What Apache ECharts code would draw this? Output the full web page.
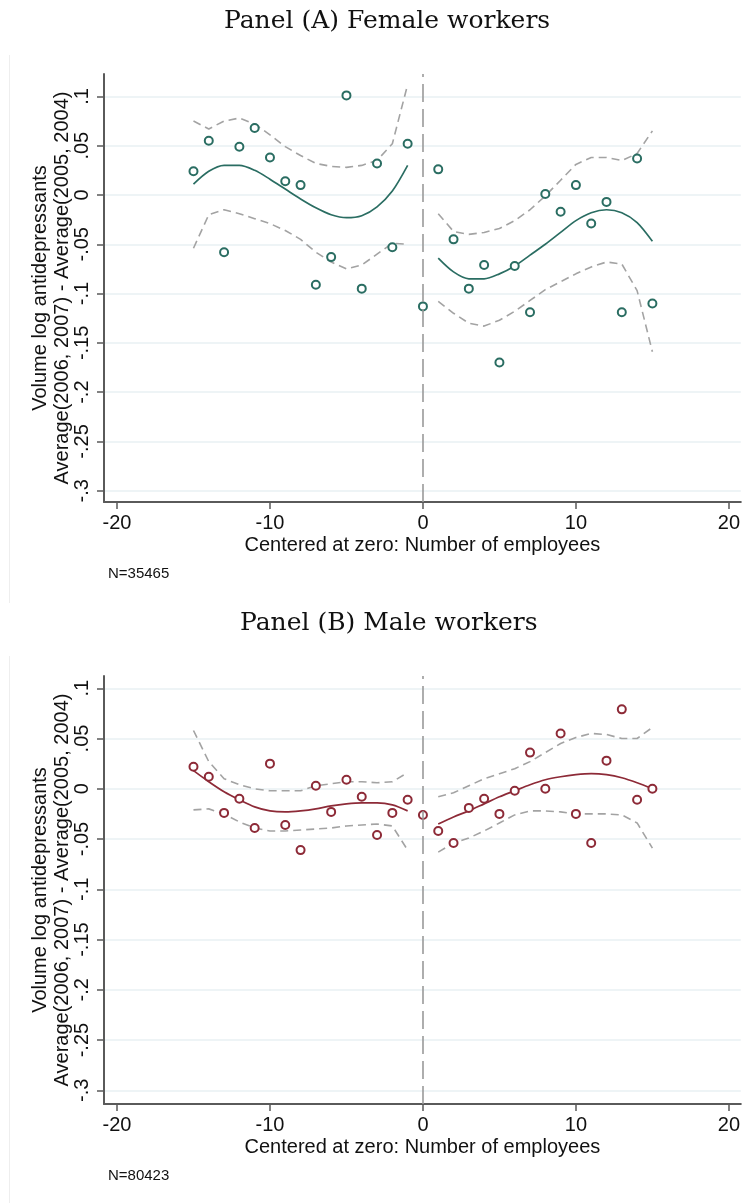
<!DOCTYPE html>
<html>
<head>
<meta charset="utf-8">
<script src="https://cdn.jsdelivr.net/npm/echarts@6/dist/echarts.min.js"></script>
<style>
  html, body { margin: 0; padding: 0; background: #ffffff; }
  #chart { width: 743px; height: 1203px; }
</style>
</head>
<body>
<div id="chart"></div>
<script>
// ---------------- data ----------------
const xAll   = [-15,-14,-13,-12,-11,-10,-9,-8,-7,-6,-5,-4,-3,-2,-1,0,1,2,3,4,5,6,7,8,9,10,11,12,13,14,15];
const xLeft  = [-15,-14,-13,-12,-11,-10,-9,-8,-7,-6,-5,-4,-3,-2,-1];
const xRight = [1,2,3,4,5,6,7,8,9,10,11,12,13,14,15];

const xTicks = [-20, -10, 0, 10, 20];
const yTicks = [0.1, 0.05, 0, -0.05, -0.1, -0.15, -0.2, -0.25, -0.3];
const yTickLabels = ['.1', '.05', '0', '-.05', '-.1', '-.15', '-.2', '-.25', '-.3'];

const panelTitles = ['Panel (A) Female workers', 'Panel (B) Male workers'];
const sampleNotes = ['N=35465', 'N=80423'];
const xTitle = 'Centered at zero: Number of employees';
const yTitle = 'Volume log antidepressants\nAverage(2006, 2007) - Average(2005, 2004)';

// Panel A: female workers
const femalePoints = [0.024,0.055,-0.058,0.049,0.068,0.038,0.014,0.010,-0.091,-0.063,0.101,-0.095,0.032,-0.053,0.052,-0.113,0.026,-0.045,-0.095,-0.071,-0.170,-0.072,-0.119,0.001,-0.017,0.010,-0.029,-0.007,-0.119,0.037,-0.110];
const femaleFitLeft    = [0.011,0.024,0.030,0.030,0.025,0.016,0.006,-0.004,-0.013,-0.020,-0.023,-0.021,-0.012,0.004,0.030];
const femaleFitRight   = [-0.064,-0.078,-0.085,-0.085,-0.080,-0.072,-0.061,-0.050,-0.038,-0.026,-0.018,-0.015,-0.018,-0.028,-0.047];
const femaleUpperLeft  = [0.075,0.067,0.075,0.078,0.072,0.061,0.049,0.040,0.032,0.029,0.028,0.030,0.035,0.052,0.112];
const femaleLowerLeft  = [-0.054,-0.020,-0.015,-0.019,-0.024,-0.029,-0.036,-0.045,-0.058,-0.068,-0.075,-0.071,-0.060,-0.049,-0.050];
const femaleUpperRight = [-0.019,-0.037,-0.040,-0.038,-0.034,-0.026,-0.015,-0.001,0.015,0.031,0.038,0.038,0.035,0.042,0.065];
const femaleLowerRight = [-0.108,-0.120,-0.130,-0.133,-0.127,-0.118,-0.107,-0.096,-0.088,-0.080,-0.073,-0.068,-0.070,-0.097,-0.159];

// Panel B: male workers
const malePoints = [0.022,0.012,-0.024,-0.010,-0.039,0.025,-0.036,-0.061,0.003,-0.023,0.009,-0.008,-0.046,-0.024,-0.011,-0.026,-0.042,-0.054,-0.019,-0.010,-0.025,-0.002,0.036,0.000,0.055,-0.025,-0.054,0.028,0.079,-0.011,0.000];
const maleFitLeft    = [0.018,0.007,-0.003,-0.011,-0.018,-0.022,-0.023,-0.022,-0.020,-0.017,-0.015,-0.014,-0.014,-0.016,-0.022];
const maleFitRight   = [-0.035,-0.028,-0.022,-0.015,-0.008,-0.002,0.004,0.009,0.012,0.014,0.015,0.014,0.011,0.006,0.000];
const maleUpperLeft  = [0.058,0.027,0.010,0.004,0.000,-0.002,-0.002,-0.002,0.003,0.005,0.007,0.007,0.006,0.007,0.016];
const maleLowerLeft  = [-0.021,-0.020,-0.025,-0.033,-0.039,-0.042,-0.042,-0.041,-0.040,-0.039,-0.037,-0.036,-0.035,-0.037,-0.061];
const maleUpperRight = [-0.008,-0.004,0.003,0.010,0.015,0.020,0.027,0.036,0.045,0.051,0.055,0.054,0.050,0.050,0.061];
const maleLowerRight = [-0.063,-0.054,-0.049,-0.042,-0.034,-0.026,-0.022,-0.022,-0.023,-0.025,-0.025,-0.025,-0.026,-0.034,-0.059];

// ---------------- styling ----------------
const SANS = '"Liberation Sans", Arial, sans-serif';
const SERIF = '"DejaVu Serif", serif';
const TEAL = '#2a6d62';
const RED = '#8d2a37';
const CI_GRAY = '#a3a3a3';
const AXIS_GRAY = '#5a5a5a';
const GRID_COLOR = '#e9f0f3';

const zip = (xs, ys) => xs.map((x, i) => [x, ys[i]]);

const panels = [
  { top: 74, height: 428, yMin: -0.3114, yMax: 0.1227, color: TEAL,
    pts: femalePoints, fl: femaleFitLeft, fr: femaleFitRight,
    ul: femaleUpperLeft, ll: femaleLowerLeft, ur: femaleUpperRight, lr: femaleLowerRight },
  { top: 676, height: 428, yMin: -0.3136, yMax: 0.1122, color: RED,
    pts: malePoints, fl: maleFitLeft, fr: maleFitRight,
    ul: maleUpperLeft, ll: maleLowerLeft, ur: maleUpperRight, lr: maleLowerRight }
];

const grids = [], xAxes = [], yAxes = [], series = [];

panels.forEach((p, i) => {
  grids.push({ left: 104, top: p.top, width: 639, height: p.height, containLabel: false });
  xAxes.push({
    type: 'value', gridIndex: i, min: -20.85, max: 20.78,
    name: xTitle, nameLocation: 'middle', nameGap: 33, nameMoveOverlap: false,
    nameTextStyle: { fontFamily: SANS, fontSize: 20, color: '#111' },
    axisLine: { show: true, onZero: false, lineStyle: { color: AXIS_GRAY, width: 2 } },
    axisTick: { show: true, length: 7, lineStyle: { color: AXIS_GRAY, width: 1.5 }, customValues: xTicks },
    axisLabel: { fontFamily: SANS, fontSize: 20, color: '#111', margin: 11, customValues: xTicks,
                 formatter: v => String(v) },
    splitLine: { show: false }
  });
  yAxes.push({
    type: 'value', gridIndex: i, min: p.yMin, max: p.yMax,
    name: yTitle, nameLocation: 'middle', nameRotate: 90, nameGap: 31, nameMoveOverlap: false,
    nameTextStyle: { fontFamily: SANS, fontSize: 20, color: '#111', lineHeight: 22 },
    axisLine: { show: true, onZero: false, lineStyle: { color: AXIS_GRAY, width: 2 } },
    axisTick: { show: true, length: 7, lineStyle: { color: AXIS_GRAY, width: 1.5 }, customValues: yTicks },
    axisLabel: { fontFamily: SANS, fontSize: 20, color: '#111', rotate: 90, margin: 12, customValues: yTicks,
                 formatter: v => { const k = yTicks.findIndex(t => Math.abs(t - v) < 1e-9); return k >= 0 ? yTickLabels[k] : ''; } },
    splitLine: { show: true, lineStyle: { color: GRID_COLOR, width: 1.5 } }
  });

  const ciStyle = { color: CI_GRAY, width: 1.6, type: [8, 5] };
  const addLine = (xs, ys, style, z, smooth) => series.push({
    type: 'line', xAxisIndex: i, yAxisIndex: i, data: zip(xs, ys),
    symbol: 'none', lineStyle: style, z: z, silent: true, animation: false, smooth: smooth
  });
  addLine(xLeft, p.ul, ciStyle, 2, false);
  addLine(xLeft, p.ll, ciStyle, 2, false);
  addLine(xRight, p.ur, ciStyle, 2, false);
  addLine(xRight, p.lr, ciStyle, 2, false);
  addLine(xLeft, p.fl, { color: p.color, width: 1.7 }, 3, 0.3);
  addLine(xRight, p.fr, { color: p.color, width: 1.7 }, 3, 0.3);

  series.push({
    type: 'scatter', xAxisIndex: i, yAxisIndex: i, data: zip(xAll, p.pts),
    symbol: 'emptyCircle', symbolSize: 8,
    itemStyle: { color: p.color, borderColor: p.color, borderWidth: 2.7, opacity: 1 },
    z: 4, animation: false,
    markLine: {
      silent: true, symbol: 'none', animation: false,
      label: { show: false },
      lineStyle: { color: '#9a9a9a', width: 1.6, type: [18, 7] },
      data: [{ xAxis: 0 }]
    }
  });
});

const chart = echarts.init(document.getElementById('chart'), null, { renderer: 'canvas' });
chart.setOption({
  backgroundColor: '#ffffff',
  animation: false,
  title: [
    { text: panelTitles[0], left: 219, top: 4, textStyle: { fontFamily: SERIF, fontSize: 25, fontWeight: 'normal', color: '#111' } },
    { text: panelTitles[1], left: 235, top: 606, textStyle: { fontFamily: SERIF, fontSize: 25, fontWeight: 'normal', color: '#111' } },
    { text: sampleNotes[0], left: 103, top: 561, textStyle: { fontFamily: SANS, fontSize: 15, fontWeight: 'normal', color: '#111' } },
    { text: sampleNotes[1], left: 103, top: 1163, textStyle: { fontFamily: SANS, fontSize: 15, fontWeight: 'normal', color: '#111' } }
  ],
  graphic: [
    { type: 'line', shape: { x1: 9.5, y1: 55, x2: 9.5, y2: 603 }, style: { stroke: '#eeeeee', lineWidth: 1 }, silent: true },
    { type: 'line', shape: { x1: 9.5, y1: 656, x2: 9.5, y2: 1203 }, style: { stroke: '#eeeeee', lineWidth: 1 }, silent: true }
  ],
  grid: grids,
  xAxis: xAxes,
  yAxis: yAxes,
  series: series
});
</script>
</body>
</html>
